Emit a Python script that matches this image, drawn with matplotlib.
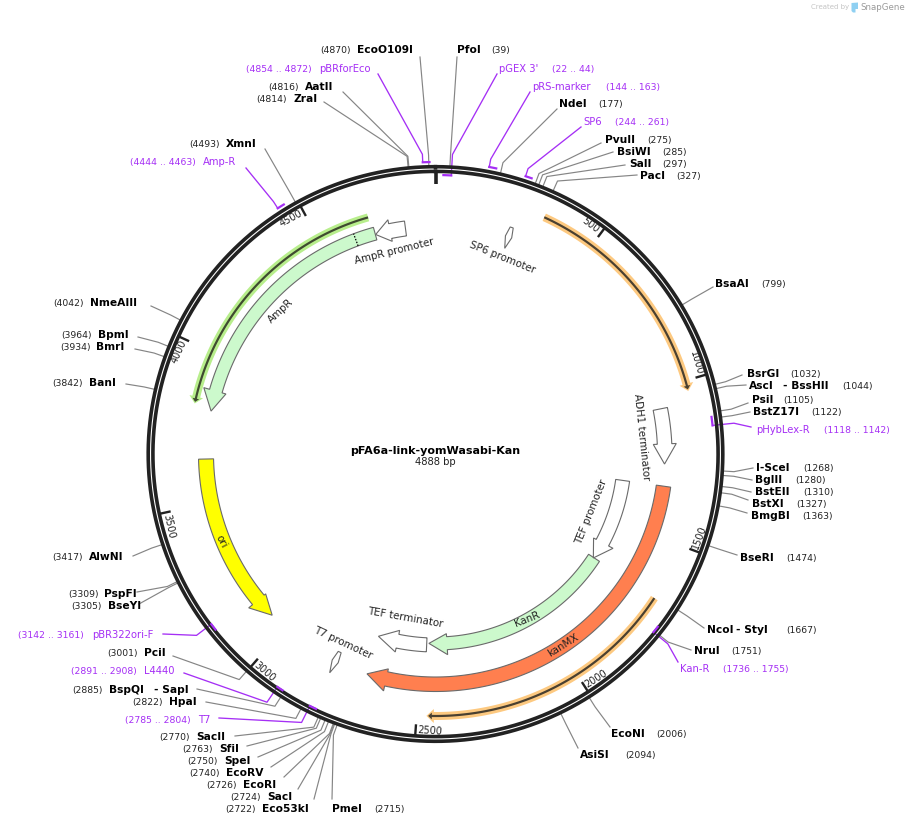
import numpy as np
import matplotlib
matplotlib.use("Agg")
import matplotlib.pyplot as plt
from matplotlib.patches import Polygon

plt.rcParams['font.family'] = ['DejaVu Sans']

# ---------- data ----------
TOTAL_BP = 4888
TITLE = "pFA6a-link-yomWasabi-Kan"
TICK_VALUES = [500, 1000, 1500, 2000, 2500, 3000, 3500, 4000, 4500]

ENZYME_NAMES = ["EcoO109I", "PfoI", "AatII", "ZraI", "NdeI", "PvuII", "BsiWI", "SalI", "PacI",
                "BsaAI", "BsrGI", "AscI", "PsiI", "BstZ17I", "I-SceI", "BglII", "BstEII", "BstXI",
                "BmgBI", "BseRI", "NcoI", "NruI", "EcoNI", "AsiSI", "PmeI", "Eco53kI", "SacI",
                "EcoRI", "EcoRV", "SpeI", "SfiI", "SacII", "HpaI", "BspQI", "PciI", "BseYI",
                "PspFI", "AlwNI", "BanI", "BmrI", "BpmI", "NmeAIII", "XmnI"]
ENZYME_SITES = [4870, 39, 4816, 4814, 177, 275, 285, 297, 327,
                799, 1032, 1044, 1105, 1122, 1268, 1280, 1310, 1327,
                1363, 1474, 1667, 1751, 2006, 2094, 2715, 2722, 2724,
                2726, 2740, 2750, 2763, 2770, 2822, 2885, 3001, 3305,
                3309, 3417, 3842, 3934, 3964, 4042, 4493]

PRIMER_NAMES = ["pBRforEco", "pGEX 3'", "pRS-marker", "SP6", "pHybLex-R", "Kan-R",
                "T7", "L4440", "pBR322ori-F", "Amp-R"]
PRIMER_STARTS = [4854, 22, 144, 244, 1118, 1736, 2785, 2891, 3142, 4444]
PRIMER_ENDS = [4872, 44, 163, 261, 1142, 1755, 2804, 2908, 3161, 4463]

GENE_NAMES = ["AmpR", "ori", "kanMX", "KanR"]
GENE_STARTS = [4680, 3649, 1331, 1673]
GENE_ENDS = [3813, 3060, 2679, 2471]
GENE_COLORS = ["#ccf9cc", "#ffff00", "#ff7f4f", "#ccf9cc"]

PROMOTER_NAMES = ["AmpR promoter", "ADH1 terminator", "TEF promoter", "TEF terminator"]
PROMOTER_STARTS = [4785, 1068, 1331, 2480]
PROMOTER_ENDS = [4681, 1256, 1675, 2680]

SMALL_NAMES = ["SP6 promoter", "T7 promoter"]
SMALL_STARTS = [244, 2785]
SMALL_ENDS = [261, 2804]

THIN_STARTS = [335, 1675, 4672]
THIN_ENDS = [1032, 2471, 3827]
THIN_COLORS = ["#fdc980", "#fdc980", "#b8ee8c"]

AMPR_SIGNAL_END = 4611

# ---------- layout ----------
CX, CY = 435.5, 454.0
R_RING_OUT, R_RING_IN = 287.3, 282.6
R_ELBOW = 299.0

ENZYME_TEXT = [(357, 50), (457, 50), (305, 87), (293, 99), (559, 104), (605, 140), (617, 152), (629, 164), (640, 176),
               (715, 284), (747, 374), (749, 386), (752, 400), (753, 412), (756, 468), (755, 480), (755, 492), (752, 504),
               (751, 516), (740, 558), (707, 630), (694, 651), (611, 734), (580, 755), (332, 809), (262, 809), (267, 797),
               (243, 785), (226, 773), (224, 761), (219, 749), (196, 737), (169, 702), (109, 690), (144, 653), (108, 606),
               (104, 594), (89, 557), (89, 383), (96, 347), (98, 335), (90, 303), (226, 144)]
ENZYME_NUM_X = [320, 491, 268, 256, 598, 647, 662, 662, 676,
                761, 790, 842, 783, 811, 803, 795, 803, 796,
                802, 786, 786, 731, 656, 625, 374, 225, 230,
                206, 189, 187, 182, 159, 132, 72, 107, 71,
                68, 52, 52, 60, 61, 53, 189]
ENZYME_LEADER_END = [(420, 57), (457, 57), (343, 92), (324, 102), (557, 109), (601, 143), (613, 152), (625, 165), (637, 175),
                     (713, 287), (742, 375), (746, 385), (748, 403), (750, 412), (753, 468), (752, 480), (751, 492), (748, 500),
                     (747, 513), (737, 555), (704, 628), (691, 650), (610, 727), (578, 748), (332, 799), (314, 799), (298, 789),
                     (284, 777), (271, 767), (258, 757), (247, 746), (235, 736), (206, 702), (197, 689), (173, 656), (139, 604),
                     (137, 592), (133, 556), (126, 384), (135, 349), (138, 337), (151, 306), (265, 149)]
EXTRA_NAMES = {"AscI": ("- BssHII", 783), "BspQI": ("- SapI", 154), "NcoI": ("- StyI", 736)}

PRIMER_TEXT = [(319, 69), (499, 69), (532, 87), (583, 122), (756, 430), (680, 669),
               (198, 720), (144, 671), (92, 635), (203, 162)]
PRIMER_RANGE_X = [246, 552, 606, 615, 824, 723, 125, 71, 18, 130]
PRIMER_LEADER_END = [(378, 74), (497, 74), (530, 92), (581, 127), (751, 427), (678, 662),
                     (219, 718), (184, 673), (163, 634), (246, 168)]
PRIMER_RADIUS = [292, 279, 292, 292, 278.5, 281.5, 281.5, 281.5, 281.5, 292]
PRIMER_ATTACH_END = [False, True, False, False, True, True, True, True, True, False]

GENE_BODY = [(222, 235), (222, 237), (223, 237.5), (183, 196)]
GENE_HEAD = [(218, 241, 70), (220, 242, 70), (220, 242.5, 67), (180, 201, 74)]
GENE_LABEL = [(281, 311, 43), (221, 541, -62), (563, 645, 32), (527, 619, 22)]
PROMOTER_BODY = [(220, 235), (222, 236.5), (182, 196), (184, 198)]
PROMOTER_HEAD = [(217, 239, 51), (218, 241, 68), (179, 201, 73), (180, 202, 80)]
PROMOTER_LABEL = [(394, 251.5, 14), (641.5, 437, -84), (591, 512, 68), (405.5, 618, -10)]
SMALL_RADII = [(239, 217), (220, 243)]
SMALL_LABEL = [(502, 257, -22), (343, 642.5, -25)]
THIN_RADIUS = [260.5, 262, 246]

GRAY = "#858585"
PURPLE = "#a52ff5"
OUTLINE = "#6a6a6a"
INK = "#222222"


def ang(bp):
    return np.asarray(bp, dtype=float) / TOTAL_BP * 2 * np.pi


def pol(bp, r):
    a = ang(bp)
    return CX + r * np.sin(a), CY - r * np.cos(a)


def arc(b0, b1, r, n=120):
    bs = np.linspace(b0, b1, n)
    return np.column_stack(pol(bs, r))


def arrow_poly(b0, b1, rin, rout, hin, hout, hlen):
    """outline of an arrow running from b0 to tip at b1"""
    d = 1 if b1 > b0 else -1
    bh = b1 - d * hlen
    rm = (rin + rout) / 2
    return np.vstack([arc(b0, bh, rout),
                      np.column_stack(pol(bh, hout)),
                      np.column_stack(pol(b1, rm)),
                      np.column_stack(pol(bh, hin)),
                      arc(bh, b0, rin)])


fig = plt.figure(figsize=(9.09, 8.26), dpi=100)
ax = fig.add_axes([0, 0, 1, 1])
ax.set_xlim(0, 909)
ax.set_ylim(826, 0)
ax.axis("off")

NAME_FS, NUM_FS, PRIM_FS, FEAT_FS = 7.7, 6.7, 7.2, 7.4


def txt(x, y, s, **kw):
    kw.setdefault("va", "center")
    kw.setdefault("ha", "left")
    kw.setdefault("fontsize", NUM_FS)
    kw.setdefault("color", "#222222")
    ax.text(x, y, s, **kw)


# enzyme sites
for name, bp, (tx, ty), nx, (ex, ey) in zip(ENZYME_NAMES, ENZYME_SITES, ENZYME_TEXT, ENZYME_NUM_X, ENZYME_LEADER_END):
    p0 = pol(bp, R_RING_OUT)
    p1 = pol(bp, R_ELBOW)
    ax.plot([p0[0], p1[0], ex], [p0[1], p1[1], ey], color=GRAY, lw=0.85, zorder=1, solid_joinstyle="round")
    txt(tx, ty, name, fontweight="bold", fontsize=NAME_FS, color="black")
    txt(nx, ty + 0.5, f"({bp})")
    if name in EXTRA_NAMES:
        extra, ex_x = EXTRA_NAMES[name]
        txt(ex_x, ty, extra, fontweight="bold", fontsize=NAME_FS, color="black")

# primers
for name, b0, b1, (tx, ty), rx, (ex, ey), r, at_end in zip(PRIMER_NAMES, PRIMER_STARTS, PRIMER_ENDS, PRIMER_TEXT,
                                                           PRIMER_RANGE_X, PRIMER_LEADER_END, PRIMER_RADIUS,
                                                           PRIMER_ATTACH_END):
    attach = b1 if at_end else b0
    p0 = pol(attach, r)
    p1 = pol(attach, R_ELBOW + 1)
    ax.plot([p0[0], p1[0], ex], [p0[1], p1[1], ey], color=PURPLE, lw=0.95, zorder=1)
    a = arc(b0, b1, r, 10)
    ax.plot(a[:, 0], a[:, 1], color=PURPLE, lw=1.6, zorder=4, solid_capstyle="projecting")
    txt(tx, ty, name, color=PURPLE, fontsize=PRIM_FS)
    txt(rx, ty + 0.5, f"({b0} .. {b1})", color=PURPLE)

# backbone ring
for r in (R_RING_OUT, R_RING_IN):
    a = arc(0, TOTAL_BP, r, 720)
    ax.plot(a[:, 0], a[:, 1], color=INK, lw=2.6, zorder=3)

# ticks
p0, p1 = pol(0, R_RING_IN), pol(0, 270)
ax.plot([p0[0], p1[0]], [p0[1], p1[1]], color=INK, lw=2.6, zorder=3, solid_capstyle="butt")
for v in TICK_VALUES:
    p0, p1 = pol(v, R_RING_IN), pol(v, 271)
    ax.plot([p0[0], p1[0]], [p0[1], p1[1]], color=INK, lw=1.7, zorder=3, solid_capstyle="butt")
    deg = np.degrees(ang(v))
    rot = -deg if deg <= 90 or deg > 270 else 180 - deg
    x, y = pol(v - 39, 276.5)
    txt(x, y, str(v), ha="center", rotation=rot, rotation_mode="anchor", fontsize=7.0, zorder=5)

# thin direction arcs with glow
for b0, b1, r, col in zip(THIN_STARTS, THIN_ENDS, THIN_RADIUS, THIN_COLORS):
    glow = arrow_poly(b0, b1, r - 4.0, r + 4.0, r - 7.0, r + 7.0, 22)
    ax.add_patch(Polygon(glow, closed=True, fc=col, ec="none", zorder=2))
    core = arrow_poly(b0, b1 - np.sign(b1 - b0) * 5, r - 1.1, r + 1.1, r - 3.4, r + 3.4, 11)
    ax.add_patch(Polygon(core, closed=True, fc="#4a4030" if col != THIN_COLORS[2] else "#3f4a30", ec="none", zorder=2.2))

# genes
for n, b0, b1, col, (rin, rout), (hin, hout, hl), (lx, ly, lr) in zip(GENE_NAMES, GENE_STARTS, GENE_ENDS, GENE_COLORS,
                                                                       GENE_BODY, GENE_HEAD, GENE_LABEL):
    ax.add_patch(Polygon(arrow_poly(b0, b1, rin, rout, hin, hout, hl), closed=True, fc=col, ec=OUTLINE, lw=0.8, zorder=2))
    txt(lx, ly, n, ha="center", rotation=lr, rotation_mode="anchor", fontsize=FEAT_FS, zorder=5)

# AmpR signal peptide boundary
sig = np.vstack([pol(AMPR_SIGNAL_END, GENE_BODY[0][0]), pol(AMPR_SIGNAL_END, GENE_BODY[0][1])])
ax.plot(sig[:, 0], sig[:, 1], color="black", lw=0.9, ls=(0, (1.2, 1.2)), zorder=3)

# promoters / terminators
for n, b0, b1, (rin, rout), (hin, hout, hl), (lx, ly, lr) in zip(PROMOTER_NAMES, PROMOTER_STARTS, PROMOTER_ENDS,
                                                                  PROMOTER_BODY, PROMOTER_HEAD, PROMOTER_LABEL):
    ax.add_patch(Polygon(arrow_poly(b0, b1, rin, rout, hin, hout, hl), closed=True, fc="white", ec=OUTLINE, lw=0.8, zorder=2))
    txt(lx, ly, n, ha="center", rotation=lr, rotation_mode="anchor", fontsize=FEAT_FS, zorder=5)

# very short features: radial glyphs
for n, b0, b1, (rb, rt), (lx, ly, lr) in zip(SMALL_NAMES, SMALL_STARTS, SMALL_ENDS, SMALL_RADII, SMALL_LABEL):
    mid = (b0 + b1) / 2
    a = ang(mid)
    u = np.array([np.sin(a), -np.cos(a)])
    v = np.array([np.cos(a), np.sin(a)])
    c = np.array([CX, CY])
    rs = rb + (rt - rb) * np.array([0, 0.45, 1.0, 0.45, 0])
    ws = np.array([1.6, 3.3, 0, -3.3, -1.6])
    pts = np.array([c + ri * u + wi * v for ri, wi in zip(rs, ws)])
    ax.add_patch(Polygon(pts, closed=True, fc="white", ec=OUTLINE, lw=0.8, zorder=2))
    txt(lx, ly, n, ha="center", rotation=lr, rotation_mode="anchor", fontsize=FEAT_FS, zorder=5)

# centre title
txt(435, 450.5, TITLE, ha="center", fontweight="bold", fontsize=8.0, color="black")
txt(435, 462, f"{TOTAL_BP} bp", ha="center", fontsize=7.2)

# watermark
txt(811, 7.5, "Created by", fontsize=5.0, color="#c4c4c4")
ax.add_patch(Polygon([(851.5, 3), (858, 2.5), (858, 9), (855.5, 9), (855.5, 12.5), (853, 12.5), (851.5, 11)],
                     closed=True, fc="#8fd0f2", ec="none"))
txt(860, 7.5, "SnapGene", fontsize=6.2, color="#9a9a9a")

fig.savefig("out.png", dpi=100)
